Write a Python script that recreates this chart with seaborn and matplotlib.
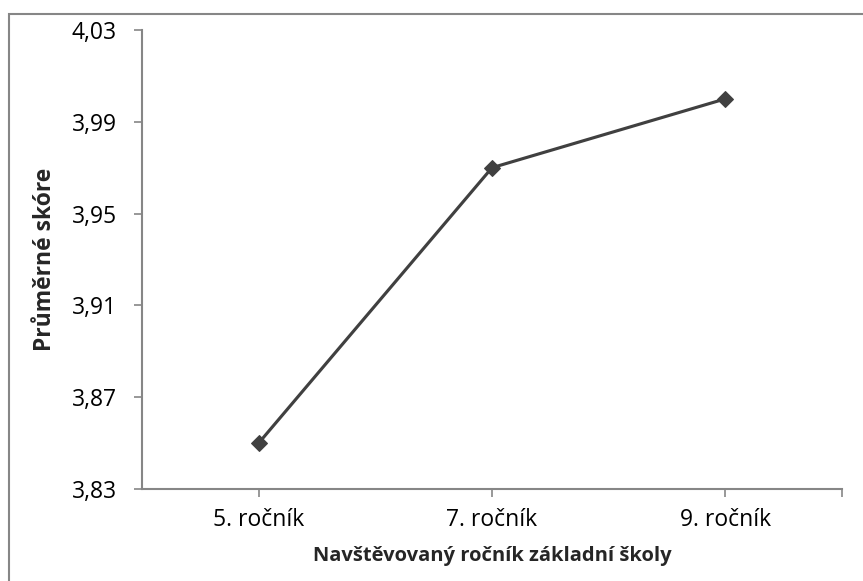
import matplotlib
matplotlib.use("Agg")
import matplotlib.pyplot as plt
import seaborn as sns
import pandas as pd
from matplotlib.patches import Rectangle
from matplotlib.ticker import FixedLocator

categories = ["5. ročník", "7. ročník", "9. ročník"]
scores = [3.85, 3.97, 4.00]
y_ticks = [3.83, 3.87, 3.91, 3.95, 3.99, 4.03]
x_label = "Navštěvovaný ročník základní školy"
y_label = "Průměrné skóre"

sns.set_style("white")
plt.rcParams["font.family"] = ["Open Sans", "DejaVu Sans"]

W, H = 863, 581
fig = plt.figure(figsize=(W / 100, H / 100), dpi=100)
ax = fig.add_axes([142 / W, 1 - 489 / H, (842 - 142) / W, (489 - 30) / H])

df = pd.DataFrame({"cat": categories, "score": scores})
sns.lineplot(data=df, x="cat", y="score", sort=False, marker="D", markersize=8,
             color="#404040", linewidth=2.25, markeredgecolor="#404040", ax=ax)

ax.set_xlim(-0.5, 2.5)
ax.set_ylim(y_ticks[0], y_ticks[-1])
ax.set_yticks(y_ticks)
ax.set_yticklabels([f"{v:.2f}".replace(".", ",") for v in y_ticks])
ax.xaxis.set_minor_locator(FixedLocator([2.5]))

for s in ["top", "right"]:
    ax.spines[s].set_visible(False)
for s in ["left", "bottom"]:
    ax.spines[s].set_color("#868686")
    ax.spines[s].set_linewidth(1.5)

ax.tick_params(axis="both", which="both", direction="out", length=6, width=1.2,
               color="#868686", labelsize=16.5, labelcolor="#000000",
               bottom=True, left=True)
ax.tick_params(axis="y", pad=12)
ax.tick_params(axis="x", pad=8)
ax.tick_params(axis="x", which="minor", length=6, bottom=True)

ax.set_xlabel(x_label, fontsize=14.5, fontweight="bold", labelpad=10)
ax.set_ylabel(y_label, fontsize=16.5, fontweight="bold", labelpad=11)

fig.patches.append(Rectangle((9 / W, -0.1), 1.2, 1 - 14 / H + 0.1, transform=fig.transFigure,
                             fill=False, edgecolor="#868686", linewidth=1.5))

fig.savefig("out.png", dpi=100)
